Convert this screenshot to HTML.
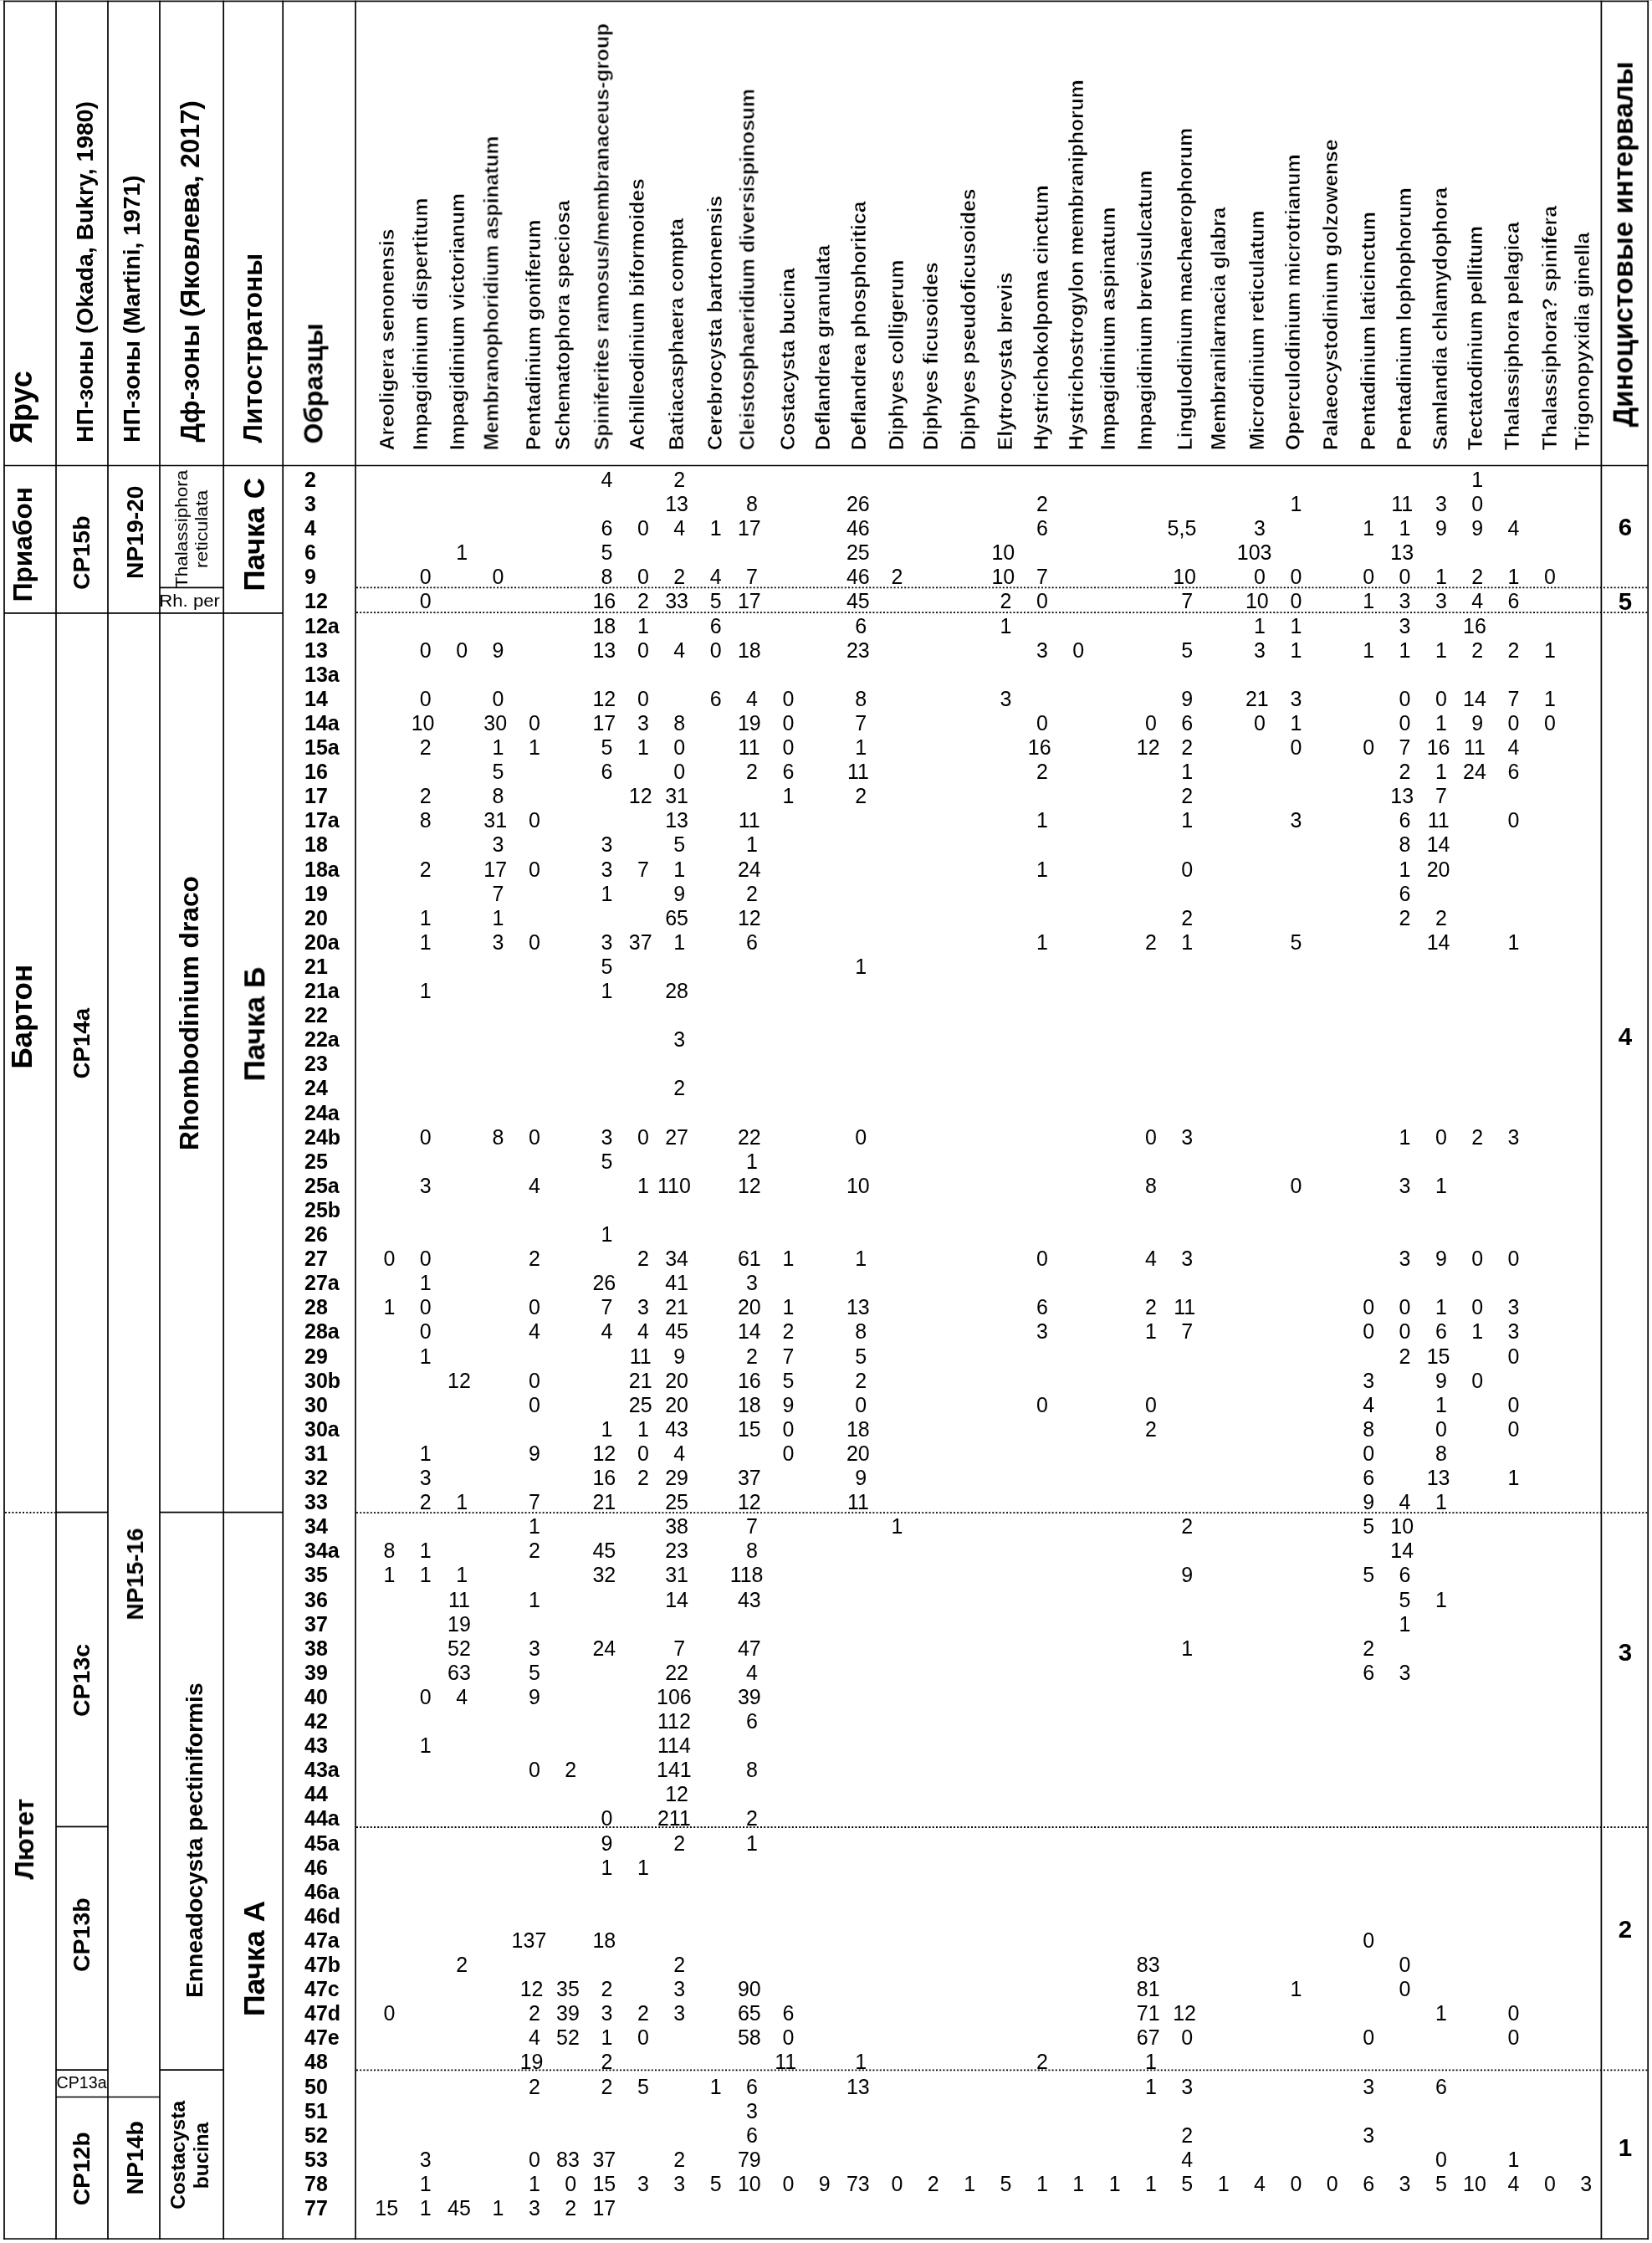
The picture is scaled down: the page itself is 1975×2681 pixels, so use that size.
<!DOCTYPE html>
<html><head><meta charset="utf-8"><title>Table</title>
<style>html,body{margin:0;padding:0;background:#fff;width:1975px;height:2681px;overflow:hidden}</style>
</head><body>
<svg width="1975" height="2681" viewBox="0 0 1975 2681" style="display:block">
<rect width="1975" height="2681" fill="#fff"/>
<rect x="0" y="0" width="1975" height="1" fill="#cacaca"/>
<g stroke="#000" fill="none"><line x1="5" y1="0.65" x2="5" y2="2676.85" stroke-width="1.7"/><line x1="67" y1="0.65" x2="67" y2="2676.85" stroke-width="1.7"/><line x1="129" y1="0.65" x2="129" y2="2676.85" stroke-width="1.7"/><line x1="191" y1="0.65" x2="191" y2="2676.85" stroke-width="1.7"/><line x1="267.2" y1="0.65" x2="267.2" y2="2676.85" stroke-width="1.7"/><line x1="338.2" y1="0.65" x2="338.2" y2="2676.85" stroke-width="1.7"/><line x1="425" y1="0.65" x2="425" y2="2676.85" stroke-width="1.7"/><line x1="1914.4" y1="0.65" x2="1914.4" y2="2676.85" stroke-width="1.7"/><line x1="1970.2" y1="0.65" x2="1970.2" y2="2676.85" stroke-width="1.7"/><line x1="4.15" y1="1.5" x2="1971.05" y2="1.5" stroke-width="1.7"/><line x1="4.15" y1="556.5" x2="1971.05" y2="556.5" stroke-width="1.7"/><line x1="4.15" y1="2676.0" x2="1971.05" y2="2676.0" stroke-width="1.7"/><line x1="5" y1="732.9" x2="338.2" y2="732.9" stroke-width="1.7"/><line x1="191" y1="702.3" x2="267.2" y2="702.3" stroke-width="1.7"/><line x1="67" y1="1807.6" x2="129" y2="1807.6" stroke-width="1.7"/><line x1="191" y1="1807.6" x2="338.2" y2="1807.6" stroke-width="1.7"/><line x1="67" y1="2183.3" x2="129" y2="2183.3" stroke-width="1.7"/><line x1="67" y1="2474.2" x2="129" y2="2474.2" stroke-width="1.7"/><line x1="191" y1="2474.2" x2="267.2" y2="2474.2" stroke-width="1.7"/><line x1="67" y1="2506.5" x2="191" y2="2506.5" stroke-width="1.7"/></g>
<g stroke="#000" stroke-width="1.8" stroke-dasharray="2 2.2" fill="none"><line x1="426" y1="702.4" x2="1970" y2="702.4"/><line x1="426" y1="732.1" x2="1970" y2="732.1"/><line x1="426" y1="1808.1" x2="1970" y2="1808.1"/><line x1="426" y1="2184.0" x2="1970" y2="2184.0"/><line x1="426" y1="2474.3" x2="1970" y2="2474.3"/><line x1="6" y1="1807.8" x2="66" y2="1807.8"/></g>
<g font-family="'Liberation Sans', sans-serif" fill="#000" style="will-change:transform"><text transform="translate(38.10,530.00) rotate(-90)" font-size="36.09" font-weight="bold" >Ярус</text><text transform="translate(111.30,529.00) rotate(-90)" font-size="28.31" font-weight="bold" >НП-зоны (Okada, Bukry, 1980)</text><text transform="translate(167.10,529.00) rotate(-90)" font-size="28.24" font-weight="bold" >НП-зоны (Martini, 1971)</text><text transform="translate(238.20,528.40) rotate(-90)" font-size="31.55" font-weight="bold" >Дф-зоны (Яковлева, 2017)</text><text transform="translate(313.20,529.30) rotate(-90)" font-size="31.70" font-weight="bold" >Литостратоны</text><text transform="translate(385.50,530.40) rotate(-90)" font-size="31.73" font-weight="bold" >Образцы</text><text transform="translate(1951.70,510.40) rotate(-90)" font-size="33.01" font-weight="bold" >Диноцистовые интервалы</text><text transform="translate(38.10,719.30) rotate(-90)" font-size="31.67" font-weight="bold" >Приабон</text><text transform="translate(38.10,1277.60) rotate(-90)" font-size="35.00" font-weight="bold" >Бартон</text><text transform="translate(40.00,2246.50) rotate(-90)" font-size="31.67" font-weight="bold" >Лютет</text><text transform="translate(106.60,705.00) rotate(-90)" font-size="28.46" font-weight="bold" >CP15b</text><text transform="translate(106.60,1289.50) rotate(-90)" font-size="27.67" font-weight="bold" >CP14a</text><text transform="translate(106.60,2052.10) rotate(-90)" font-size="28.54" font-weight="bold" >CP13c</text><text transform="translate(106.80,2357.00) rotate(-90)" font-size="28.53" font-weight="bold" >CP13b</text><text transform="translate(106.60,2636.30) rotate(-90)" font-size="28.27" font-weight="bold" >CP12b</text><text transform="translate(170.90,691.90) rotate(-90)" font-size="28.23" font-weight="bold" >NP19-20</text><text transform="translate(171.00,1936.50) rotate(-90)" font-size="27.90" font-weight="bold" >NP15-16</text><text transform="translate(170.80,2623.50) rotate(-90)" font-size="28.40" font-weight="bold" >NP14b</text><text transform="translate(237.00,1375.00) rotate(-90)" font-size="31.74" font-weight="bold" >Rhombodinium draco</text><text transform="translate(242.00,2388.10) rotate(-90)" font-size="28.25" font-weight="bold" >Enneadocysta pectiniformis</text><text transform="translate(221.00,2640.80) rotate(-90)" font-size="24.32" font-weight="bold" >Costacysta</text><text transform="translate(249.00,2616.30) rotate(-90)" font-size="24.72" font-weight="bold" >bucina</text><text transform="translate(316.10,706.60) rotate(-90)" font-size="34.83" font-weight="bold" >Пачка С</text><text transform="translate(316.30,1292.50) rotate(-90)" font-size="35.21" font-weight="bold" >Пачка Б</text><text transform="translate(316.20,2410.10) rotate(-90)" font-size="35.59" font-weight="bold" >Пачка А</text><text transform="translate(470.80,538.30) rotate(-90)" font-size="24.70" font-weight="bold" stroke="#fff" stroke-width="0.5">Areoligera senonensis</text><text transform="translate(510.80,538.30) rotate(-90)" font-size="24.70" font-weight="bold" stroke="#fff" stroke-width="0.5">Impagidinium dispertitum</text><text transform="translate(555.10,538.30) rotate(-90)" font-size="24.70" font-weight="bold" stroke="#fff" stroke-width="0.5">Impagidinium victorianum</text><text transform="translate(595.60,538.30) rotate(-90)" font-size="24.70" font-weight="bold" stroke="#fff" stroke-width="0.5">Membranophoridium aspinatum</text><text transform="translate(645.90,538.30) rotate(-90)" font-size="24.70" font-weight="bold" stroke="#fff" stroke-width="0.5">Pentadinium goniferum</text><text transform="translate(681.40,538.30) rotate(-90)" font-size="24.70" font-weight="bold" stroke="#fff" stroke-width="0.5">Schematophora speciosa</text><text transform="translate(727.70,538.30) rotate(-90)" font-size="24.70" font-weight="bold" stroke="#fff" stroke-width="0.5">Spiniferites ramosus/membranaceus-group</text><text transform="translate(770.30,538.30) rotate(-90)" font-size="24.70" font-weight="bold" stroke="#fff" stroke-width="0.5">Achilleodinium biformoides</text><text transform="translate(817.00,538.30) rotate(-90)" font-size="24.70" font-weight="bold" stroke="#fff" stroke-width="0.5">Batiacasphaera compta</text><text transform="translate(862.60,538.30) rotate(-90)" font-size="24.70" font-weight="bold" stroke="#fff" stroke-width="0.5">Cerebrocysta bartonensis</text><text transform="translate(901.70,538.30) rotate(-90)" font-size="24.70" font-weight="bold" stroke="#fff" stroke-width="0.5">Cleistosphaeridium diversispinosum</text><text transform="translate(949.60,538.30) rotate(-90)" font-size="24.70" font-weight="bold" stroke="#fff" stroke-width="0.5">Costacysta bucina</text><text transform="translate(992.00,538.30) rotate(-90)" font-size="24.70" font-weight="bold" stroke="#fff" stroke-width="0.5">Deflandrea granulata</text><text transform="translate(1034.70,538.30) rotate(-90)" font-size="24.70" font-weight="bold" stroke="#fff" stroke-width="0.5">Deflandrea phosphoritica</text><text transform="translate(1080.10,538.30) rotate(-90)" font-size="24.70" font-weight="bold" stroke="#fff" stroke-width="0.5">Diphyes colligerum</text><text transform="translate(1120.80,538.30) rotate(-90)" font-size="24.70" font-weight="bold" stroke="#fff" stroke-width="0.5">Diphyes ficusoides</text><text transform="translate(1165.90,538.30) rotate(-90)" font-size="24.70" font-weight="bold" stroke="#fff" stroke-width="0.5">Diphyes pseudoficusoides</text><text transform="translate(1209.80,538.30) rotate(-90)" font-size="24.70" font-weight="bold" stroke="#fff" stroke-width="0.5">Elytrocysta brevis</text><text transform="translate(1252.90,538.30) rotate(-90)" font-size="24.70" font-weight="bold" stroke="#fff" stroke-width="0.5">Hystrichokolpoma cinctum</text><text transform="translate(1294.80,538.30) rotate(-90)" font-size="24.70" font-weight="bold" stroke="#fff" stroke-width="0.5">Hystrichostrogylon membraniphorum</text><text transform="translate(1332.90,538.30) rotate(-90)" font-size="24.70" font-weight="bold" stroke="#fff" stroke-width="0.5">Impagidinium aspinatum</text><text transform="translate(1377.10,538.30) rotate(-90)" font-size="24.70" font-weight="bold" stroke="#fff" stroke-width="0.5">Impagidinium brevisulcatum</text><text transform="translate(1425.20,538.30) rotate(-90)" font-size="24.70" font-weight="bold" stroke="#fff" stroke-width="0.5">Lingulodinium machaerophorum</text><text transform="translate(1464.90,538.30) rotate(-90)" font-size="24.70" font-weight="bold" stroke="#fff" stroke-width="0.5">Membranilarnacia glabra</text><text transform="translate(1511.00,538.30) rotate(-90)" font-size="24.70" font-weight="bold" stroke="#fff" stroke-width="0.5">Microdinium reticulatum</text><text transform="translate(1553.80,538.30) rotate(-90)" font-size="24.70" font-weight="bold" stroke="#fff" stroke-width="0.5">Operculodinium microtrianum</text><text transform="translate(1599.20,538.30) rotate(-90)" font-size="24.70" font-weight="bold" stroke="#fff" stroke-width="0.5">Palaeocystodinium golzowense</text><text transform="translate(1644.00,538.30) rotate(-90)" font-size="24.70" font-weight="bold" stroke="#fff" stroke-width="0.5">Pentadinium laticinctum</text><text transform="translate(1686.70,538.30) rotate(-90)" font-size="24.70" font-weight="bold" stroke="#fff" stroke-width="0.5">Pentadinium lophophorum</text><text transform="translate(1729.90,538.30) rotate(-90)" font-size="24.70" font-weight="bold" stroke="#fff" stroke-width="0.5">Samlandia chlamydophora</text><text transform="translate(1772.40,538.30) rotate(-90)" font-size="24.70" font-weight="bold" stroke="#fff" stroke-width="0.5">Tectatodinium pellitum</text><text transform="translate(1815.70,538.30) rotate(-90)" font-size="24.70" font-weight="bold" stroke="#fff" stroke-width="0.5">Thalassiphora pelagica</text><text transform="translate(1860.70,538.30) rotate(-90)" font-size="24.70" font-weight="bold" stroke="#fff" stroke-width="0.5">Thalassiphora? spinifera</text><text transform="translate(1899.80,538.30) rotate(-90)" font-size="24.70" font-weight="bold" stroke="#fff" stroke-width="0.5">Trigonopyxidia ginella</text><text x="67.60" y="2496.20" font-size="21" font-weight="normal" text-anchor="start" textLength="60" lengthAdjust="spacingAndGlyphs">CP13a</text><text transform="translate(223.90,702.90) rotate(-90)" font-size="21.00" font-weight="normal" textLength="141.2" lengthAdjust="spacingAndGlyphs">Thalassiphora</text><text transform="translate(247.90,679.10) rotate(-90)" font-size="20.80" font-weight="normal" textLength="93.5" lengthAdjust="spacingAndGlyphs">reticulata</text><text x="190.30" y="724.70" font-size="20.5" font-weight="normal" text-anchor="start" textLength="72.6" lengthAdjust="spacingAndGlyphs">Rh. per</text><text x="1943.00" y="639.70" font-size="29.5" font-weight="bold" text-anchor="middle" >6</text><text x="1943.00" y="728.90" font-size="29.5" font-weight="bold" text-anchor="middle" >5</text><text x="1943.00" y="1249.00" font-size="29.5" font-weight="bold" text-anchor="middle" >4</text><text x="1943.00" y="1984.50" font-size="29.5" font-weight="bold" text-anchor="middle" >3</text><text x="1943.00" y="2315.70" font-size="29.5" font-weight="bold" text-anchor="middle" >2</text><text x="1943.00" y="2577.00" font-size="29.5" font-weight="bold" text-anchor="middle" >1</text><text x="364.00" y="581.90" font-size="25" font-weight="bold" text-anchor="start" >2</text><text x="725.56" y="581.90" font-size="25" font-weight="normal" text-anchor="middle" >4</text><text x="812.28" y="581.90" font-size="25" font-weight="normal" text-anchor="middle" >2</text><text x="1766.20" y="581.90" font-size="25" font-weight="normal" text-anchor="middle" >1</text><text x="364.00" y="611.00" font-size="25" font-weight="bold" text-anchor="start" >3</text><text x="809.08" y="611.00" font-size="25" font-weight="normal" text-anchor="middle" >13</text><text x="899.00" y="611.00" font-size="25" font-weight="normal" text-anchor="middle" >8</text><text x="1025.88" y="611.00" font-size="25" font-weight="normal" text-anchor="middle" >26</text><text x="1245.88" y="611.00" font-size="25" font-weight="normal" text-anchor="middle" >2</text><text x="1549.40" y="611.00" font-size="25" font-weight="normal" text-anchor="middle" >1</text><text x="1676.28" y="611.00" font-size="25" font-weight="normal" text-anchor="middle" >11</text><text x="1722.84" y="611.00" font-size="25" font-weight="normal" text-anchor="middle" >3</text><text x="1766.20" y="611.00" font-size="25" font-weight="normal" text-anchor="middle" >0</text><text x="364.00" y="640.10" font-size="25" font-weight="bold" text-anchor="start" >4</text><text x="725.56" y="640.10" font-size="25" font-weight="normal" text-anchor="middle" >6</text><text x="768.92" y="640.10" font-size="25" font-weight="normal" text-anchor="middle" >0</text><text x="812.28" y="640.10" font-size="25" font-weight="normal" text-anchor="middle" >4</text><text x="855.64" y="640.10" font-size="25" font-weight="normal" text-anchor="middle" >1</text><text x="895.80" y="640.10" font-size="25" font-weight="normal" text-anchor="middle" >17</text><text x="1025.88" y="640.10" font-size="25" font-weight="normal" text-anchor="middle" >46</text><text x="1245.88" y="640.10" font-size="25" font-weight="normal" text-anchor="middle" >6</text><text x="1412.92" y="640.10" font-size="25" font-weight="normal" text-anchor="middle" >5,5</text><text x="1506.04" y="640.10" font-size="25" font-weight="normal" text-anchor="middle" >3</text><text x="1636.12" y="640.10" font-size="25" font-weight="normal" text-anchor="middle" >1</text><text x="1679.48" y="640.10" font-size="25" font-weight="normal" text-anchor="middle" >1</text><text x="1722.84" y="640.10" font-size="25" font-weight="normal" text-anchor="middle" >9</text><text x="1766.20" y="640.10" font-size="25" font-weight="normal" text-anchor="middle" >9</text><text x="1809.56" y="640.10" font-size="25" font-weight="normal" text-anchor="middle" >4</text><text x="364.00" y="669.20" font-size="25" font-weight="bold" text-anchor="start" >6</text><text x="552.12" y="669.20" font-size="25" font-weight="normal" text-anchor="middle" >1</text><text x="725.56" y="669.20" font-size="25" font-weight="normal" text-anchor="middle" >5</text><text x="1025.88" y="669.20" font-size="25" font-weight="normal" text-anchor="middle" >25</text><text x="1199.32" y="669.20" font-size="25" font-weight="normal" text-anchor="middle" >10</text><text x="1499.64" y="669.20" font-size="25" font-weight="normal" text-anchor="middle" >103</text><text x="1676.28" y="669.20" font-size="25" font-weight="normal" text-anchor="middle" >13</text><text x="364.00" y="698.30" font-size="25" font-weight="bold" text-anchor="start" >9</text><text x="508.76" y="698.30" font-size="25" font-weight="normal" text-anchor="middle" >0</text><text x="595.48" y="698.30" font-size="25" font-weight="normal" text-anchor="middle" >0</text><text x="725.56" y="698.30" font-size="25" font-weight="normal" text-anchor="middle" >8</text><text x="768.92" y="698.30" font-size="25" font-weight="normal" text-anchor="middle" >0</text><text x="812.28" y="698.30" font-size="25" font-weight="normal" text-anchor="middle" >2</text><text x="855.64" y="698.30" font-size="25" font-weight="normal" text-anchor="middle" >4</text><text x="899.00" y="698.30" font-size="25" font-weight="normal" text-anchor="middle" >7</text><text x="1025.88" y="698.30" font-size="25" font-weight="normal" text-anchor="middle" >46</text><text x="1072.44" y="698.30" font-size="25" font-weight="normal" text-anchor="middle" >2</text><text x="1199.32" y="698.30" font-size="25" font-weight="normal" text-anchor="middle" >10</text><text x="1245.88" y="698.30" font-size="25" font-weight="normal" text-anchor="middle" >7</text><text x="1416.12" y="698.30" font-size="25" font-weight="normal" text-anchor="middle" >10</text><text x="1506.04" y="698.30" font-size="25" font-weight="normal" text-anchor="middle" >0</text><text x="1549.40" y="698.30" font-size="25" font-weight="normal" text-anchor="middle" >0</text><text x="1636.12" y="698.30" font-size="25" font-weight="normal" text-anchor="middle" >0</text><text x="1679.48" y="698.30" font-size="25" font-weight="normal" text-anchor="middle" >0</text><text x="1722.84" y="698.30" font-size="25" font-weight="normal" text-anchor="middle" >1</text><text x="1766.20" y="698.30" font-size="25" font-weight="normal" text-anchor="middle" >2</text><text x="1809.56" y="698.30" font-size="25" font-weight="normal" text-anchor="middle" >1</text><text x="1852.92" y="698.30" font-size="25" font-weight="normal" text-anchor="middle" >0</text><text x="364.00" y="727.40" font-size="25" font-weight="bold" text-anchor="start" >12</text><text x="508.76" y="727.40" font-size="25" font-weight="normal" text-anchor="middle" >0</text><text x="722.36" y="727.40" font-size="25" font-weight="normal" text-anchor="middle" >16</text><text x="768.92" y="727.40" font-size="25" font-weight="normal" text-anchor="middle" >2</text><text x="809.08" y="727.40" font-size="25" font-weight="normal" text-anchor="middle" >33</text><text x="855.64" y="727.40" font-size="25" font-weight="normal" text-anchor="middle" >5</text><text x="895.80" y="727.40" font-size="25" font-weight="normal" text-anchor="middle" >17</text><text x="1025.88" y="727.40" font-size="25" font-weight="normal" text-anchor="middle" >45</text><text x="1202.52" y="727.40" font-size="25" font-weight="normal" text-anchor="middle" >2</text><text x="1245.88" y="727.40" font-size="25" font-weight="normal" text-anchor="middle" >0</text><text x="1419.32" y="727.40" font-size="25" font-weight="normal" text-anchor="middle" >7</text><text x="1502.84" y="727.40" font-size="25" font-weight="normal" text-anchor="middle" >10</text><text x="1549.40" y="727.40" font-size="25" font-weight="normal" text-anchor="middle" >0</text><text x="1636.12" y="727.40" font-size="25" font-weight="normal" text-anchor="middle" >1</text><text x="1679.48" y="727.40" font-size="25" font-weight="normal" text-anchor="middle" >3</text><text x="1722.84" y="727.40" font-size="25" font-weight="normal" text-anchor="middle" >3</text><text x="1766.20" y="727.40" font-size="25" font-weight="normal" text-anchor="middle" >4</text><text x="1809.56" y="727.40" font-size="25" font-weight="normal" text-anchor="middle" >6</text><text x="364.00" y="756.50" font-size="25" font-weight="bold" text-anchor="start" >12a</text><text x="722.36" y="756.50" font-size="25" font-weight="normal" text-anchor="middle" >18</text><text x="768.92" y="756.50" font-size="25" font-weight="normal" text-anchor="middle" >1</text><text x="855.64" y="756.50" font-size="25" font-weight="normal" text-anchor="middle" >6</text><text x="1029.08" y="756.50" font-size="25" font-weight="normal" text-anchor="middle" >6</text><text x="1202.52" y="756.50" font-size="25" font-weight="normal" text-anchor="middle" >1</text><text x="1506.04" y="756.50" font-size="25" font-weight="normal" text-anchor="middle" >1</text><text x="1549.40" y="756.50" font-size="25" font-weight="normal" text-anchor="middle" >1</text><text x="1679.48" y="756.50" font-size="25" font-weight="normal" text-anchor="middle" >3</text><text x="1763.00" y="756.50" font-size="25" font-weight="normal" text-anchor="middle" >16</text><text x="364.00" y="785.60" font-size="25" font-weight="bold" text-anchor="start" >13</text><text x="508.76" y="785.60" font-size="25" font-weight="normal" text-anchor="middle" >0</text><text x="552.12" y="785.60" font-size="25" font-weight="normal" text-anchor="middle" >0</text><text x="595.48" y="785.60" font-size="25" font-weight="normal" text-anchor="middle" >9</text><text x="722.36" y="785.60" font-size="25" font-weight="normal" text-anchor="middle" >13</text><text x="768.92" y="785.60" font-size="25" font-weight="normal" text-anchor="middle" >0</text><text x="812.28" y="785.60" font-size="25" font-weight="normal" text-anchor="middle" >4</text><text x="855.64" y="785.60" font-size="25" font-weight="normal" text-anchor="middle" >0</text><text x="895.80" y="785.60" font-size="25" font-weight="normal" text-anchor="middle" >18</text><text x="1025.88" y="785.60" font-size="25" font-weight="normal" text-anchor="middle" >23</text><text x="1245.88" y="785.60" font-size="25" font-weight="normal" text-anchor="middle" >3</text><text x="1289.24" y="785.60" font-size="25" font-weight="normal" text-anchor="middle" >0</text><text x="1419.32" y="785.60" font-size="25" font-weight="normal" text-anchor="middle" >5</text><text x="1506.04" y="785.60" font-size="25" font-weight="normal" text-anchor="middle" >3</text><text x="1549.40" y="785.60" font-size="25" font-weight="normal" text-anchor="middle" >1</text><text x="1636.12" y="785.60" font-size="25" font-weight="normal" text-anchor="middle" >1</text><text x="1679.48" y="785.60" font-size="25" font-weight="normal" text-anchor="middle" >1</text><text x="1722.84" y="785.60" font-size="25" font-weight="normal" text-anchor="middle" >1</text><text x="1766.20" y="785.60" font-size="25" font-weight="normal" text-anchor="middle" >2</text><text x="1809.56" y="785.60" font-size="25" font-weight="normal" text-anchor="middle" >2</text><text x="1852.92" y="785.60" font-size="25" font-weight="normal" text-anchor="middle" >1</text><text x="364.00" y="814.70" font-size="25" font-weight="bold" text-anchor="start" >13a</text><text x="364.00" y="843.80" font-size="25" font-weight="bold" text-anchor="start" >14</text><text x="508.76" y="843.80" font-size="25" font-weight="normal" text-anchor="middle" >0</text><text x="595.48" y="843.80" font-size="25" font-weight="normal" text-anchor="middle" >0</text><text x="722.36" y="843.80" font-size="25" font-weight="normal" text-anchor="middle" >12</text><text x="768.92" y="843.80" font-size="25" font-weight="normal" text-anchor="middle" >0</text><text x="855.64" y="843.80" font-size="25" font-weight="normal" text-anchor="middle" >6</text><text x="899.00" y="843.80" font-size="25" font-weight="normal" text-anchor="middle" >4</text><text x="942.36" y="843.80" font-size="25" font-weight="normal" text-anchor="middle" >0</text><text x="1029.08" y="843.80" font-size="25" font-weight="normal" text-anchor="middle" >8</text><text x="1202.52" y="843.80" font-size="25" font-weight="normal" text-anchor="middle" >3</text><text x="1419.32" y="843.80" font-size="25" font-weight="normal" text-anchor="middle" >9</text><text x="1502.84" y="843.80" font-size="25" font-weight="normal" text-anchor="middle" >21</text><text x="1549.40" y="843.80" font-size="25" font-weight="normal" text-anchor="middle" >3</text><text x="1679.48" y="843.80" font-size="25" font-weight="normal" text-anchor="middle" >0</text><text x="1722.84" y="843.80" font-size="25" font-weight="normal" text-anchor="middle" >0</text><text x="1763.00" y="843.80" font-size="25" font-weight="normal" text-anchor="middle" >14</text><text x="1809.56" y="843.80" font-size="25" font-weight="normal" text-anchor="middle" >7</text><text x="1852.92" y="843.80" font-size="25" font-weight="normal" text-anchor="middle" >1</text><text x="364.00" y="872.90" font-size="25" font-weight="bold" text-anchor="start" >14a</text><text x="505.56" y="872.90" font-size="25" font-weight="normal" text-anchor="middle" >10</text><text x="592.28" y="872.90" font-size="25" font-weight="normal" text-anchor="middle" >30</text><text x="638.84" y="872.90" font-size="25" font-weight="normal" text-anchor="middle" >0</text><text x="722.36" y="872.90" font-size="25" font-weight="normal" text-anchor="middle" >17</text><text x="768.92" y="872.90" font-size="25" font-weight="normal" text-anchor="middle" >3</text><text x="812.28" y="872.90" font-size="25" font-weight="normal" text-anchor="middle" >8</text><text x="895.80" y="872.90" font-size="25" font-weight="normal" text-anchor="middle" >19</text><text x="942.36" y="872.90" font-size="25" font-weight="normal" text-anchor="middle" >0</text><text x="1029.08" y="872.90" font-size="25" font-weight="normal" text-anchor="middle" >7</text><text x="1245.88" y="872.90" font-size="25" font-weight="normal" text-anchor="middle" >0</text><text x="1375.96" y="872.90" font-size="25" font-weight="normal" text-anchor="middle" >0</text><text x="1419.32" y="872.90" font-size="25" font-weight="normal" text-anchor="middle" >6</text><text x="1506.04" y="872.90" font-size="25" font-weight="normal" text-anchor="middle" >0</text><text x="1549.40" y="872.90" font-size="25" font-weight="normal" text-anchor="middle" >1</text><text x="1679.48" y="872.90" font-size="25" font-weight="normal" text-anchor="middle" >0</text><text x="1722.84" y="872.90" font-size="25" font-weight="normal" text-anchor="middle" >1</text><text x="1766.20" y="872.90" font-size="25" font-weight="normal" text-anchor="middle" >9</text><text x="1809.56" y="872.90" font-size="25" font-weight="normal" text-anchor="middle" >0</text><text x="1852.92" y="872.90" font-size="25" font-weight="normal" text-anchor="middle" >0</text><text x="364.00" y="902.00" font-size="25" font-weight="bold" text-anchor="start" >15a</text><text x="508.76" y="902.00" font-size="25" font-weight="normal" text-anchor="middle" >2</text><text x="595.48" y="902.00" font-size="25" font-weight="normal" text-anchor="middle" >1</text><text x="638.84" y="902.00" font-size="25" font-weight="normal" text-anchor="middle" >1</text><text x="725.56" y="902.00" font-size="25" font-weight="normal" text-anchor="middle" >5</text><text x="768.92" y="902.00" font-size="25" font-weight="normal" text-anchor="middle" >1</text><text x="812.28" y="902.00" font-size="25" font-weight="normal" text-anchor="middle" >0</text><text x="895.80" y="902.00" font-size="25" font-weight="normal" text-anchor="middle" >11</text><text x="942.36" y="902.00" font-size="25" font-weight="normal" text-anchor="middle" >0</text><text x="1029.08" y="902.00" font-size="25" font-weight="normal" text-anchor="middle" >1</text><text x="1242.68" y="902.00" font-size="25" font-weight="normal" text-anchor="middle" >16</text><text x="1372.76" y="902.00" font-size="25" font-weight="normal" text-anchor="middle" >12</text><text x="1419.32" y="902.00" font-size="25" font-weight="normal" text-anchor="middle" >2</text><text x="1549.40" y="902.00" font-size="25" font-weight="normal" text-anchor="middle" >0</text><text x="1636.12" y="902.00" font-size="25" font-weight="normal" text-anchor="middle" >0</text><text x="1679.48" y="902.00" font-size="25" font-weight="normal" text-anchor="middle" >7</text><text x="1719.64" y="902.00" font-size="25" font-weight="normal" text-anchor="middle" >16</text><text x="1763.00" y="902.00" font-size="25" font-weight="normal" text-anchor="middle" >11</text><text x="1809.56" y="902.00" font-size="25" font-weight="normal" text-anchor="middle" >4</text><text x="364.00" y="931.10" font-size="25" font-weight="bold" text-anchor="start" >16</text><text x="595.48" y="931.10" font-size="25" font-weight="normal" text-anchor="middle" >5</text><text x="725.56" y="931.10" font-size="25" font-weight="normal" text-anchor="middle" >6</text><text x="812.28" y="931.10" font-size="25" font-weight="normal" text-anchor="middle" >0</text><text x="899.00" y="931.10" font-size="25" font-weight="normal" text-anchor="middle" >2</text><text x="942.36" y="931.10" font-size="25" font-weight="normal" text-anchor="middle" >6</text><text x="1025.88" y="931.10" font-size="25" font-weight="normal" text-anchor="middle" >11</text><text x="1245.88" y="931.10" font-size="25" font-weight="normal" text-anchor="middle" >2</text><text x="1419.32" y="931.10" font-size="25" font-weight="normal" text-anchor="middle" >1</text><text x="1679.48" y="931.10" font-size="25" font-weight="normal" text-anchor="middle" >2</text><text x="1722.84" y="931.10" font-size="25" font-weight="normal" text-anchor="middle" >1</text><text x="1763.00" y="931.10" font-size="25" font-weight="normal" text-anchor="middle" >24</text><text x="1809.56" y="931.10" font-size="25" font-weight="normal" text-anchor="middle" >6</text><text x="364.00" y="960.20" font-size="25" font-weight="bold" text-anchor="start" >17</text><text x="508.76" y="960.20" font-size="25" font-weight="normal" text-anchor="middle" >2</text><text x="595.48" y="960.20" font-size="25" font-weight="normal" text-anchor="middle" >8</text><text x="765.72" y="960.20" font-size="25" font-weight="normal" text-anchor="middle" >12</text><text x="809.08" y="960.20" font-size="25" font-weight="normal" text-anchor="middle" >31</text><text x="942.36" y="960.20" font-size="25" font-weight="normal" text-anchor="middle" >1</text><text x="1029.08" y="960.20" font-size="25" font-weight="normal" text-anchor="middle" >2</text><text x="1419.32" y="960.20" font-size="25" font-weight="normal" text-anchor="middle" >2</text><text x="1676.28" y="960.20" font-size="25" font-weight="normal" text-anchor="middle" >13</text><text x="1722.84" y="960.20" font-size="25" font-weight="normal" text-anchor="middle" >7</text><text x="364.00" y="989.30" font-size="25" font-weight="bold" text-anchor="start" >17a</text><text x="508.76" y="989.30" font-size="25" font-weight="normal" text-anchor="middle" >8</text><text x="592.28" y="989.30" font-size="25" font-weight="normal" text-anchor="middle" >31</text><text x="638.84" y="989.30" font-size="25" font-weight="normal" text-anchor="middle" >0</text><text x="809.08" y="989.30" font-size="25" font-weight="normal" text-anchor="middle" >13</text><text x="895.80" y="989.30" font-size="25" font-weight="normal" text-anchor="middle" >11</text><text x="1245.88" y="989.30" font-size="25" font-weight="normal" text-anchor="middle" >1</text><text x="1419.32" y="989.30" font-size="25" font-weight="normal" text-anchor="middle" >1</text><text x="1549.40" y="989.30" font-size="25" font-weight="normal" text-anchor="middle" >3</text><text x="1679.48" y="989.30" font-size="25" font-weight="normal" text-anchor="middle" >6</text><text x="1719.64" y="989.30" font-size="25" font-weight="normal" text-anchor="middle" >11</text><text x="1809.56" y="989.30" font-size="25" font-weight="normal" text-anchor="middle" >0</text><text x="364.00" y="1018.40" font-size="25" font-weight="bold" text-anchor="start" >18</text><text x="595.48" y="1018.40" font-size="25" font-weight="normal" text-anchor="middle" >3</text><text x="725.56" y="1018.40" font-size="25" font-weight="normal" text-anchor="middle" >3</text><text x="812.28" y="1018.40" font-size="25" font-weight="normal" text-anchor="middle" >5</text><text x="899.00" y="1018.40" font-size="25" font-weight="normal" text-anchor="middle" >1</text><text x="1679.48" y="1018.40" font-size="25" font-weight="normal" text-anchor="middle" >8</text><text x="1719.64" y="1018.40" font-size="25" font-weight="normal" text-anchor="middle" >14</text><text x="364.00" y="1047.50" font-size="25" font-weight="bold" text-anchor="start" >18a</text><text x="508.76" y="1047.50" font-size="25" font-weight="normal" text-anchor="middle" >2</text><text x="592.28" y="1047.50" font-size="25" font-weight="normal" text-anchor="middle" >17</text><text x="638.84" y="1047.50" font-size="25" font-weight="normal" text-anchor="middle" >0</text><text x="725.56" y="1047.50" font-size="25" font-weight="normal" text-anchor="middle" >3</text><text x="768.92" y="1047.50" font-size="25" font-weight="normal" text-anchor="middle" >7</text><text x="812.28" y="1047.50" font-size="25" font-weight="normal" text-anchor="middle" >1</text><text x="895.80" y="1047.50" font-size="25" font-weight="normal" text-anchor="middle" >24</text><text x="1245.88" y="1047.50" font-size="25" font-weight="normal" text-anchor="middle" >1</text><text x="1419.32" y="1047.50" font-size="25" font-weight="normal" text-anchor="middle" >0</text><text x="1679.48" y="1047.50" font-size="25" font-weight="normal" text-anchor="middle" >1</text><text x="1719.64" y="1047.50" font-size="25" font-weight="normal" text-anchor="middle" >20</text><text x="364.00" y="1076.60" font-size="25" font-weight="bold" text-anchor="start" >19</text><text x="595.48" y="1076.60" font-size="25" font-weight="normal" text-anchor="middle" >7</text><text x="725.56" y="1076.60" font-size="25" font-weight="normal" text-anchor="middle" >1</text><text x="812.28" y="1076.60" font-size="25" font-weight="normal" text-anchor="middle" >9</text><text x="899.00" y="1076.60" font-size="25" font-weight="normal" text-anchor="middle" >2</text><text x="1679.48" y="1076.60" font-size="25" font-weight="normal" text-anchor="middle" >6</text><text x="364.00" y="1105.70" font-size="25" font-weight="bold" text-anchor="start" >20</text><text x="508.76" y="1105.70" font-size="25" font-weight="normal" text-anchor="middle" >1</text><text x="595.48" y="1105.70" font-size="25" font-weight="normal" text-anchor="middle" >1</text><text x="809.08" y="1105.70" font-size="25" font-weight="normal" text-anchor="middle" >65</text><text x="895.80" y="1105.70" font-size="25" font-weight="normal" text-anchor="middle" >12</text><text x="1419.32" y="1105.70" font-size="25" font-weight="normal" text-anchor="middle" >2</text><text x="1679.48" y="1105.70" font-size="25" font-weight="normal" text-anchor="middle" >2</text><text x="1722.84" y="1105.70" font-size="25" font-weight="normal" text-anchor="middle" >2</text><text x="364.00" y="1134.80" font-size="25" font-weight="bold" text-anchor="start" >20a</text><text x="508.76" y="1134.80" font-size="25" font-weight="normal" text-anchor="middle" >1</text><text x="595.48" y="1134.80" font-size="25" font-weight="normal" text-anchor="middle" >3</text><text x="638.84" y="1134.80" font-size="25" font-weight="normal" text-anchor="middle" >0</text><text x="725.56" y="1134.80" font-size="25" font-weight="normal" text-anchor="middle" >3</text><text x="765.72" y="1134.80" font-size="25" font-weight="normal" text-anchor="middle" >37</text><text x="812.28" y="1134.80" font-size="25" font-weight="normal" text-anchor="middle" >1</text><text x="899.00" y="1134.80" font-size="25" font-weight="normal" text-anchor="middle" >6</text><text x="1245.88" y="1134.80" font-size="25" font-weight="normal" text-anchor="middle" >1</text><text x="1375.96" y="1134.80" font-size="25" font-weight="normal" text-anchor="middle" >2</text><text x="1419.32" y="1134.80" font-size="25" font-weight="normal" text-anchor="middle" >1</text><text x="1549.40" y="1134.80" font-size="25" font-weight="normal" text-anchor="middle" >5</text><text x="1719.64" y="1134.80" font-size="25" font-weight="normal" text-anchor="middle" >14</text><text x="1809.56" y="1134.80" font-size="25" font-weight="normal" text-anchor="middle" >1</text><text x="364.00" y="1163.90" font-size="25" font-weight="bold" text-anchor="start" >21</text><text x="725.56" y="1163.90" font-size="25" font-weight="normal" text-anchor="middle" >5</text><text x="1029.08" y="1163.90" font-size="25" font-weight="normal" text-anchor="middle" >1</text><text x="364.00" y="1193.00" font-size="25" font-weight="bold" text-anchor="start" >21a</text><text x="508.76" y="1193.00" font-size="25" font-weight="normal" text-anchor="middle" >1</text><text x="725.56" y="1193.00" font-size="25" font-weight="normal" text-anchor="middle" >1</text><text x="809.08" y="1193.00" font-size="25" font-weight="normal" text-anchor="middle" >28</text><text x="364.00" y="1222.10" font-size="25" font-weight="bold" text-anchor="start" >22</text><text x="364.00" y="1251.20" font-size="25" font-weight="bold" text-anchor="start" >22a</text><text x="812.28" y="1251.20" font-size="25" font-weight="normal" text-anchor="middle" >3</text><text x="364.00" y="1280.30" font-size="25" font-weight="bold" text-anchor="start" >23</text><text x="364.00" y="1309.40" font-size="25" font-weight="bold" text-anchor="start" >24</text><text x="812.28" y="1309.40" font-size="25" font-weight="normal" text-anchor="middle" >2</text><text x="364.00" y="1338.50" font-size="25" font-weight="bold" text-anchor="start" >24a</text><text x="364.00" y="1367.60" font-size="25" font-weight="bold" text-anchor="start" >24b</text><text x="508.76" y="1367.60" font-size="25" font-weight="normal" text-anchor="middle" >0</text><text x="595.48" y="1367.60" font-size="25" font-weight="normal" text-anchor="middle" >8</text><text x="638.84" y="1367.60" font-size="25" font-weight="normal" text-anchor="middle" >0</text><text x="725.56" y="1367.60" font-size="25" font-weight="normal" text-anchor="middle" >3</text><text x="768.92" y="1367.60" font-size="25" font-weight="normal" text-anchor="middle" >0</text><text x="809.08" y="1367.60" font-size="25" font-weight="normal" text-anchor="middle" >27</text><text x="895.80" y="1367.60" font-size="25" font-weight="normal" text-anchor="middle" >22</text><text x="1029.08" y="1367.60" font-size="25" font-weight="normal" text-anchor="middle" >0</text><text x="1375.96" y="1367.60" font-size="25" font-weight="normal" text-anchor="middle" >0</text><text x="1419.32" y="1367.60" font-size="25" font-weight="normal" text-anchor="middle" >3</text><text x="1679.48" y="1367.60" font-size="25" font-weight="normal" text-anchor="middle" >1</text><text x="1722.84" y="1367.60" font-size="25" font-weight="normal" text-anchor="middle" >0</text><text x="1766.20" y="1367.60" font-size="25" font-weight="normal" text-anchor="middle" >2</text><text x="1809.56" y="1367.60" font-size="25" font-weight="normal" text-anchor="middle" >3</text><text x="364.00" y="1396.70" font-size="25" font-weight="bold" text-anchor="start" >25</text><text x="725.56" y="1396.70" font-size="25" font-weight="normal" text-anchor="middle" >5</text><text x="899.00" y="1396.70" font-size="25" font-weight="normal" text-anchor="middle" >1</text><text x="364.00" y="1425.80" font-size="25" font-weight="bold" text-anchor="start" >25a</text><text x="508.76" y="1425.80" font-size="25" font-weight="normal" text-anchor="middle" >3</text><text x="638.84" y="1425.80" font-size="25" font-weight="normal" text-anchor="middle" >4</text><text x="768.92" y="1425.80" font-size="25" font-weight="normal" text-anchor="middle" >1</text><text x="805.88" y="1425.80" font-size="25" font-weight="normal" text-anchor="middle" >110</text><text x="895.80" y="1425.80" font-size="25" font-weight="normal" text-anchor="middle" >12</text><text x="1025.88" y="1425.80" font-size="25" font-weight="normal" text-anchor="middle" >10</text><text x="1375.96" y="1425.80" font-size="25" font-weight="normal" text-anchor="middle" >8</text><text x="1549.40" y="1425.80" font-size="25" font-weight="normal" text-anchor="middle" >0</text><text x="1679.48" y="1425.80" font-size="25" font-weight="normal" text-anchor="middle" >3</text><text x="1722.84" y="1425.80" font-size="25" font-weight="normal" text-anchor="middle" >1</text><text x="364.00" y="1454.90" font-size="25" font-weight="bold" text-anchor="start" >25b</text><text x="364.00" y="1484.00" font-size="25" font-weight="bold" text-anchor="start" >26</text><text x="725.56" y="1484.00" font-size="25" font-weight="normal" text-anchor="middle" >1</text><text x="364.00" y="1513.10" font-size="25" font-weight="bold" text-anchor="start" >27</text><text x="465.40" y="1513.10" font-size="25" font-weight="normal" text-anchor="middle" >0</text><text x="508.76" y="1513.10" font-size="25" font-weight="normal" text-anchor="middle" >0</text><text x="638.84" y="1513.10" font-size="25" font-weight="normal" text-anchor="middle" >2</text><text x="768.92" y="1513.10" font-size="25" font-weight="normal" text-anchor="middle" >2</text><text x="809.08" y="1513.10" font-size="25" font-weight="normal" text-anchor="middle" >34</text><text x="895.80" y="1513.10" font-size="25" font-weight="normal" text-anchor="middle" >61</text><text x="942.36" y="1513.10" font-size="25" font-weight="normal" text-anchor="middle" >1</text><text x="1029.08" y="1513.10" font-size="25" font-weight="normal" text-anchor="middle" >1</text><text x="1245.88" y="1513.10" font-size="25" font-weight="normal" text-anchor="middle" >0</text><text x="1375.96" y="1513.10" font-size="25" font-weight="normal" text-anchor="middle" >4</text><text x="1419.32" y="1513.10" font-size="25" font-weight="normal" text-anchor="middle" >3</text><text x="1679.48" y="1513.10" font-size="25" font-weight="normal" text-anchor="middle" >3</text><text x="1722.84" y="1513.10" font-size="25" font-weight="normal" text-anchor="middle" >9</text><text x="1766.20" y="1513.10" font-size="25" font-weight="normal" text-anchor="middle" >0</text><text x="1809.56" y="1513.10" font-size="25" font-weight="normal" text-anchor="middle" >0</text><text x="364.00" y="1542.20" font-size="25" font-weight="bold" text-anchor="start" >27a</text><text x="508.76" y="1542.20" font-size="25" font-weight="normal" text-anchor="middle" >1</text><text x="722.36" y="1542.20" font-size="25" font-weight="normal" text-anchor="middle" >26</text><text x="809.08" y="1542.20" font-size="25" font-weight="normal" text-anchor="middle" >41</text><text x="899.00" y="1542.20" font-size="25" font-weight="normal" text-anchor="middle" >3</text><text x="364.00" y="1571.30" font-size="25" font-weight="bold" text-anchor="start" >28</text><text x="465.40" y="1571.30" font-size="25" font-weight="normal" text-anchor="middle" >1</text><text x="508.76" y="1571.30" font-size="25" font-weight="normal" text-anchor="middle" >0</text><text x="638.84" y="1571.30" font-size="25" font-weight="normal" text-anchor="middle" >0</text><text x="725.56" y="1571.30" font-size="25" font-weight="normal" text-anchor="middle" >7</text><text x="768.92" y="1571.30" font-size="25" font-weight="normal" text-anchor="middle" >3</text><text x="809.08" y="1571.30" font-size="25" font-weight="normal" text-anchor="middle" >21</text><text x="895.80" y="1571.30" font-size="25" font-weight="normal" text-anchor="middle" >20</text><text x="942.36" y="1571.30" font-size="25" font-weight="normal" text-anchor="middle" >1</text><text x="1025.88" y="1571.30" font-size="25" font-weight="normal" text-anchor="middle" >13</text><text x="1245.88" y="1571.30" font-size="25" font-weight="normal" text-anchor="middle" >6</text><text x="1375.96" y="1571.30" font-size="25" font-weight="normal" text-anchor="middle" >2</text><text x="1416.12" y="1571.30" font-size="25" font-weight="normal" text-anchor="middle" >11</text><text x="1636.12" y="1571.30" font-size="25" font-weight="normal" text-anchor="middle" >0</text><text x="1679.48" y="1571.30" font-size="25" font-weight="normal" text-anchor="middle" >0</text><text x="1722.84" y="1571.30" font-size="25" font-weight="normal" text-anchor="middle" >1</text><text x="1766.20" y="1571.30" font-size="25" font-weight="normal" text-anchor="middle" >0</text><text x="1809.56" y="1571.30" font-size="25" font-weight="normal" text-anchor="middle" >3</text><text x="364.00" y="1600.40" font-size="25" font-weight="bold" text-anchor="start" >28a</text><text x="508.76" y="1600.40" font-size="25" font-weight="normal" text-anchor="middle" >0</text><text x="638.84" y="1600.40" font-size="25" font-weight="normal" text-anchor="middle" >4</text><text x="725.56" y="1600.40" font-size="25" font-weight="normal" text-anchor="middle" >4</text><text x="768.92" y="1600.40" font-size="25" font-weight="normal" text-anchor="middle" >4</text><text x="809.08" y="1600.40" font-size="25" font-weight="normal" text-anchor="middle" >45</text><text x="895.80" y="1600.40" font-size="25" font-weight="normal" text-anchor="middle" >14</text><text x="942.36" y="1600.40" font-size="25" font-weight="normal" text-anchor="middle" >2</text><text x="1029.08" y="1600.40" font-size="25" font-weight="normal" text-anchor="middle" >8</text><text x="1245.88" y="1600.40" font-size="25" font-weight="normal" text-anchor="middle" >3</text><text x="1375.96" y="1600.40" font-size="25" font-weight="normal" text-anchor="middle" >1</text><text x="1419.32" y="1600.40" font-size="25" font-weight="normal" text-anchor="middle" >7</text><text x="1636.12" y="1600.40" font-size="25" font-weight="normal" text-anchor="middle" >0</text><text x="1679.48" y="1600.40" font-size="25" font-weight="normal" text-anchor="middle" >0</text><text x="1722.84" y="1600.40" font-size="25" font-weight="normal" text-anchor="middle" >6</text><text x="1766.20" y="1600.40" font-size="25" font-weight="normal" text-anchor="middle" >1</text><text x="1809.56" y="1600.40" font-size="25" font-weight="normal" text-anchor="middle" >3</text><text x="364.00" y="1629.50" font-size="25" font-weight="bold" text-anchor="start" >29</text><text x="508.76" y="1629.50" font-size="25" font-weight="normal" text-anchor="middle" >1</text><text x="765.72" y="1629.50" font-size="25" font-weight="normal" text-anchor="middle" >11</text><text x="812.28" y="1629.50" font-size="25" font-weight="normal" text-anchor="middle" >9</text><text x="899.00" y="1629.50" font-size="25" font-weight="normal" text-anchor="middle" >2</text><text x="942.36" y="1629.50" font-size="25" font-weight="normal" text-anchor="middle" >7</text><text x="1029.08" y="1629.50" font-size="25" font-weight="normal" text-anchor="middle" >5</text><text x="1679.48" y="1629.50" font-size="25" font-weight="normal" text-anchor="middle" >2</text><text x="1719.64" y="1629.50" font-size="25" font-weight="normal" text-anchor="middle" >15</text><text x="1809.56" y="1629.50" font-size="25" font-weight="normal" text-anchor="middle" >0</text><text x="364.00" y="1658.60" font-size="25" font-weight="bold" text-anchor="start" >30b</text><text x="548.92" y="1658.60" font-size="25" font-weight="normal" text-anchor="middle" >12</text><text x="638.84" y="1658.60" font-size="25" font-weight="normal" text-anchor="middle" >0</text><text x="765.72" y="1658.60" font-size="25" font-weight="normal" text-anchor="middle" >21</text><text x="809.08" y="1658.60" font-size="25" font-weight="normal" text-anchor="middle" >20</text><text x="895.80" y="1658.60" font-size="25" font-weight="normal" text-anchor="middle" >16</text><text x="942.36" y="1658.60" font-size="25" font-weight="normal" text-anchor="middle" >5</text><text x="1029.08" y="1658.60" font-size="25" font-weight="normal" text-anchor="middle" >2</text><text x="1636.12" y="1658.60" font-size="25" font-weight="normal" text-anchor="middle" >3</text><text x="1722.84" y="1658.60" font-size="25" font-weight="normal" text-anchor="middle" >9</text><text x="1766.20" y="1658.60" font-size="25" font-weight="normal" text-anchor="middle" >0</text><text x="364.00" y="1687.70" font-size="25" font-weight="bold" text-anchor="start" >30</text><text x="638.84" y="1687.70" font-size="25" font-weight="normal" text-anchor="middle" >0</text><text x="765.72" y="1687.70" font-size="25" font-weight="normal" text-anchor="middle" >25</text><text x="809.08" y="1687.70" font-size="25" font-weight="normal" text-anchor="middle" >20</text><text x="895.80" y="1687.70" font-size="25" font-weight="normal" text-anchor="middle" >18</text><text x="942.36" y="1687.70" font-size="25" font-weight="normal" text-anchor="middle" >9</text><text x="1029.08" y="1687.70" font-size="25" font-weight="normal" text-anchor="middle" >0</text><text x="1245.88" y="1687.70" font-size="25" font-weight="normal" text-anchor="middle" >0</text><text x="1375.96" y="1687.70" font-size="25" font-weight="normal" text-anchor="middle" >0</text><text x="1636.12" y="1687.70" font-size="25" font-weight="normal" text-anchor="middle" >4</text><text x="1722.84" y="1687.70" font-size="25" font-weight="normal" text-anchor="middle" >1</text><text x="1809.56" y="1687.70" font-size="25" font-weight="normal" text-anchor="middle" >0</text><text x="364.00" y="1716.80" font-size="25" font-weight="bold" text-anchor="start" >30a</text><text x="725.56" y="1716.80" font-size="25" font-weight="normal" text-anchor="middle" >1</text><text x="768.92" y="1716.80" font-size="25" font-weight="normal" text-anchor="middle" >1</text><text x="809.08" y="1716.80" font-size="25" font-weight="normal" text-anchor="middle" >43</text><text x="895.80" y="1716.80" font-size="25" font-weight="normal" text-anchor="middle" >15</text><text x="942.36" y="1716.80" font-size="25" font-weight="normal" text-anchor="middle" >0</text><text x="1025.88" y="1716.80" font-size="25" font-weight="normal" text-anchor="middle" >18</text><text x="1375.96" y="1716.80" font-size="25" font-weight="normal" text-anchor="middle" >2</text><text x="1636.12" y="1716.80" font-size="25" font-weight="normal" text-anchor="middle" >8</text><text x="1722.84" y="1716.80" font-size="25" font-weight="normal" text-anchor="middle" >0</text><text x="1809.56" y="1716.80" font-size="25" font-weight="normal" text-anchor="middle" >0</text><text x="364.00" y="1745.90" font-size="25" font-weight="bold" text-anchor="start" >31</text><text x="508.76" y="1745.90" font-size="25" font-weight="normal" text-anchor="middle" >1</text><text x="638.84" y="1745.90" font-size="25" font-weight="normal" text-anchor="middle" >9</text><text x="722.36" y="1745.90" font-size="25" font-weight="normal" text-anchor="middle" >12</text><text x="768.92" y="1745.90" font-size="25" font-weight="normal" text-anchor="middle" >0</text><text x="812.28" y="1745.90" font-size="25" font-weight="normal" text-anchor="middle" >4</text><text x="942.36" y="1745.90" font-size="25" font-weight="normal" text-anchor="middle" >0</text><text x="1025.88" y="1745.90" font-size="25" font-weight="normal" text-anchor="middle" >20</text><text x="1636.12" y="1745.90" font-size="25" font-weight="normal" text-anchor="middle" >0</text><text x="1722.84" y="1745.90" font-size="25" font-weight="normal" text-anchor="middle" >8</text><text x="364.00" y="1775.00" font-size="25" font-weight="bold" text-anchor="start" >32</text><text x="508.76" y="1775.00" font-size="25" font-weight="normal" text-anchor="middle" >3</text><text x="722.36" y="1775.00" font-size="25" font-weight="normal" text-anchor="middle" >16</text><text x="768.92" y="1775.00" font-size="25" font-weight="normal" text-anchor="middle" >2</text><text x="809.08" y="1775.00" font-size="25" font-weight="normal" text-anchor="middle" >29</text><text x="895.80" y="1775.00" font-size="25" font-weight="normal" text-anchor="middle" >37</text><text x="1029.08" y="1775.00" font-size="25" font-weight="normal" text-anchor="middle" >9</text><text x="1636.12" y="1775.00" font-size="25" font-weight="normal" text-anchor="middle" >6</text><text x="1719.64" y="1775.00" font-size="25" font-weight="normal" text-anchor="middle" >13</text><text x="1809.56" y="1775.00" font-size="25" font-weight="normal" text-anchor="middle" >1</text><text x="364.00" y="1804.10" font-size="25" font-weight="bold" text-anchor="start" >33</text><text x="508.76" y="1804.10" font-size="25" font-weight="normal" text-anchor="middle" >2</text><text x="552.12" y="1804.10" font-size="25" font-weight="normal" text-anchor="middle" >1</text><text x="638.84" y="1804.10" font-size="25" font-weight="normal" text-anchor="middle" >7</text><text x="722.36" y="1804.10" font-size="25" font-weight="normal" text-anchor="middle" >21</text><text x="809.08" y="1804.10" font-size="25" font-weight="normal" text-anchor="middle" >25</text><text x="895.80" y="1804.10" font-size="25" font-weight="normal" text-anchor="middle" >12</text><text x="1025.88" y="1804.10" font-size="25" font-weight="normal" text-anchor="middle" >11</text><text x="1636.12" y="1804.10" font-size="25" font-weight="normal" text-anchor="middle" >9</text><text x="1679.48" y="1804.10" font-size="25" font-weight="normal" text-anchor="middle" >4</text><text x="1722.84" y="1804.10" font-size="25" font-weight="normal" text-anchor="middle" >1</text><text x="364.00" y="1833.20" font-size="25" font-weight="bold" text-anchor="start" >34</text><text x="638.84" y="1833.20" font-size="25" font-weight="normal" text-anchor="middle" >1</text><text x="809.08" y="1833.20" font-size="25" font-weight="normal" text-anchor="middle" >38</text><text x="899.00" y="1833.20" font-size="25" font-weight="normal" text-anchor="middle" >7</text><text x="1072.44" y="1833.20" font-size="25" font-weight="normal" text-anchor="middle" >1</text><text x="1419.32" y="1833.20" font-size="25" font-weight="normal" text-anchor="middle" >2</text><text x="1636.12" y="1833.20" font-size="25" font-weight="normal" text-anchor="middle" >5</text><text x="1676.28" y="1833.20" font-size="25" font-weight="normal" text-anchor="middle" >10</text><text x="364.00" y="1862.30" font-size="25" font-weight="bold" text-anchor="start" >34a</text><text x="465.40" y="1862.30" font-size="25" font-weight="normal" text-anchor="middle" >8</text><text x="508.76" y="1862.30" font-size="25" font-weight="normal" text-anchor="middle" >1</text><text x="638.84" y="1862.30" font-size="25" font-weight="normal" text-anchor="middle" >2</text><text x="722.36" y="1862.30" font-size="25" font-weight="normal" text-anchor="middle" >45</text><text x="809.08" y="1862.30" font-size="25" font-weight="normal" text-anchor="middle" >23</text><text x="899.00" y="1862.30" font-size="25" font-weight="normal" text-anchor="middle" >8</text><text x="1676.28" y="1862.30" font-size="25" font-weight="normal" text-anchor="middle" >14</text><text x="364.00" y="1891.40" font-size="25" font-weight="bold" text-anchor="start" >35</text><text x="465.40" y="1891.40" font-size="25" font-weight="normal" text-anchor="middle" >1</text><text x="508.76" y="1891.40" font-size="25" font-weight="normal" text-anchor="middle" >1</text><text x="552.12" y="1891.40" font-size="25" font-weight="normal" text-anchor="middle" >1</text><text x="722.36" y="1891.40" font-size="25" font-weight="normal" text-anchor="middle" >32</text><text x="809.08" y="1891.40" font-size="25" font-weight="normal" text-anchor="middle" >31</text><text x="892.60" y="1891.40" font-size="25" font-weight="normal" text-anchor="middle" >118</text><text x="1419.32" y="1891.40" font-size="25" font-weight="normal" text-anchor="middle" >9</text><text x="1636.12" y="1891.40" font-size="25" font-weight="normal" text-anchor="middle" >5</text><text x="1679.48" y="1891.40" font-size="25" font-weight="normal" text-anchor="middle" >6</text><text x="364.00" y="1920.50" font-size="25" font-weight="bold" text-anchor="start" >36</text><text x="548.92" y="1920.50" font-size="25" font-weight="normal" text-anchor="middle" >11</text><text x="638.84" y="1920.50" font-size="25" font-weight="normal" text-anchor="middle" >1</text><text x="809.08" y="1920.50" font-size="25" font-weight="normal" text-anchor="middle" >14</text><text x="895.80" y="1920.50" font-size="25" font-weight="normal" text-anchor="middle" >43</text><text x="1679.48" y="1920.50" font-size="25" font-weight="normal" text-anchor="middle" >5</text><text x="1722.84" y="1920.50" font-size="25" font-weight="normal" text-anchor="middle" >1</text><text x="364.00" y="1949.60" font-size="25" font-weight="bold" text-anchor="start" >37</text><text x="548.92" y="1949.60" font-size="25" font-weight="normal" text-anchor="middle" >19</text><text x="1679.48" y="1949.60" font-size="25" font-weight="normal" text-anchor="middle" >1</text><text x="364.00" y="1978.70" font-size="25" font-weight="bold" text-anchor="start" >38</text><text x="548.92" y="1978.70" font-size="25" font-weight="normal" text-anchor="middle" >52</text><text x="638.84" y="1978.70" font-size="25" font-weight="normal" text-anchor="middle" >3</text><text x="722.36" y="1978.70" font-size="25" font-weight="normal" text-anchor="middle" >24</text><text x="812.28" y="1978.70" font-size="25" font-weight="normal" text-anchor="middle" >7</text><text x="895.80" y="1978.70" font-size="25" font-weight="normal" text-anchor="middle" >47</text><text x="1419.32" y="1978.70" font-size="25" font-weight="normal" text-anchor="middle" >1</text><text x="1636.12" y="1978.70" font-size="25" font-weight="normal" text-anchor="middle" >2</text><text x="364.00" y="2007.80" font-size="25" font-weight="bold" text-anchor="start" >39</text><text x="548.92" y="2007.80" font-size="25" font-weight="normal" text-anchor="middle" >63</text><text x="638.84" y="2007.80" font-size="25" font-weight="normal" text-anchor="middle" >5</text><text x="809.08" y="2007.80" font-size="25" font-weight="normal" text-anchor="middle" >22</text><text x="899.00" y="2007.80" font-size="25" font-weight="normal" text-anchor="middle" >4</text><text x="1636.12" y="2007.80" font-size="25" font-weight="normal" text-anchor="middle" >6</text><text x="1679.48" y="2007.80" font-size="25" font-weight="normal" text-anchor="middle" >3</text><text x="364.00" y="2036.90" font-size="25" font-weight="bold" text-anchor="start" >40</text><text x="508.76" y="2036.90" font-size="25" font-weight="normal" text-anchor="middle" >0</text><text x="552.12" y="2036.90" font-size="25" font-weight="normal" text-anchor="middle" >4</text><text x="638.84" y="2036.90" font-size="25" font-weight="normal" text-anchor="middle" >9</text><text x="805.88" y="2036.90" font-size="25" font-weight="normal" text-anchor="middle" >106</text><text x="895.80" y="2036.90" font-size="25" font-weight="normal" text-anchor="middle" >39</text><text x="364.00" y="2066.00" font-size="25" font-weight="bold" text-anchor="start" >42</text><text x="805.88" y="2066.00" font-size="25" font-weight="normal" text-anchor="middle" >112</text><text x="899.00" y="2066.00" font-size="25" font-weight="normal" text-anchor="middle" >6</text><text x="364.00" y="2095.10" font-size="25" font-weight="bold" text-anchor="start" >43</text><text x="508.76" y="2095.10" font-size="25" font-weight="normal" text-anchor="middle" >1</text><text x="805.88" y="2095.10" font-size="25" font-weight="normal" text-anchor="middle" >114</text><text x="364.00" y="2124.20" font-size="25" font-weight="bold" text-anchor="start" >43a</text><text x="638.84" y="2124.20" font-size="25" font-weight="normal" text-anchor="middle" >0</text><text x="682.20" y="2124.20" font-size="25" font-weight="normal" text-anchor="middle" >2</text><text x="805.88" y="2124.20" font-size="25" font-weight="normal" text-anchor="middle" >141</text><text x="899.00" y="2124.20" font-size="25" font-weight="normal" text-anchor="middle" >8</text><text x="364.00" y="2153.30" font-size="25" font-weight="bold" text-anchor="start" >44</text><text x="809.08" y="2153.30" font-size="25" font-weight="normal" text-anchor="middle" >12</text><text x="364.00" y="2182.40" font-size="25" font-weight="bold" text-anchor="start" >44a</text><text x="725.56" y="2182.40" font-size="25" font-weight="normal" text-anchor="middle" >0</text><text x="805.88" y="2182.40" font-size="25" font-weight="normal" text-anchor="middle" >211</text><text x="899.00" y="2182.40" font-size="25" font-weight="normal" text-anchor="middle" >2</text><text x="364.00" y="2211.50" font-size="25" font-weight="bold" text-anchor="start" >45a</text><text x="725.56" y="2211.50" font-size="25" font-weight="normal" text-anchor="middle" >9</text><text x="812.28" y="2211.50" font-size="25" font-weight="normal" text-anchor="middle" >2</text><text x="899.00" y="2211.50" font-size="25" font-weight="normal" text-anchor="middle" >1</text><text x="364.00" y="2240.60" font-size="25" font-weight="bold" text-anchor="start" >46</text><text x="725.56" y="2240.60" font-size="25" font-weight="normal" text-anchor="middle" >1</text><text x="768.92" y="2240.60" font-size="25" font-weight="normal" text-anchor="middle" >1</text><text x="364.00" y="2269.70" font-size="25" font-weight="bold" text-anchor="start" >46a</text><text x="364.00" y="2298.80" font-size="25" font-weight="bold" text-anchor="start" >46d</text><text x="364.00" y="2327.90" font-size="25" font-weight="bold" text-anchor="start" >47a</text><text x="632.44" y="2327.90" font-size="25" font-weight="normal" text-anchor="middle" >137</text><text x="722.36" y="2327.90" font-size="25" font-weight="normal" text-anchor="middle" >18</text><text x="1636.12" y="2327.90" font-size="25" font-weight="normal" text-anchor="middle" >0</text><text x="364.00" y="2357.00" font-size="25" font-weight="bold" text-anchor="start" >47b</text><text x="552.12" y="2357.00" font-size="25" font-weight="normal" text-anchor="middle" >2</text><text x="812.28" y="2357.00" font-size="25" font-weight="normal" text-anchor="middle" >2</text><text x="1372.76" y="2357.00" font-size="25" font-weight="normal" text-anchor="middle" >83</text><text x="1679.48" y="2357.00" font-size="25" font-weight="normal" text-anchor="middle" >0</text><text x="364.00" y="2386.10" font-size="25" font-weight="bold" text-anchor="start" >47c</text><text x="635.64" y="2386.10" font-size="25" font-weight="normal" text-anchor="middle" >12</text><text x="679.00" y="2386.10" font-size="25" font-weight="normal" text-anchor="middle" >35</text><text x="725.56" y="2386.10" font-size="25" font-weight="normal" text-anchor="middle" >2</text><text x="812.28" y="2386.10" font-size="25" font-weight="normal" text-anchor="middle" >3</text><text x="895.80" y="2386.10" font-size="25" font-weight="normal" text-anchor="middle" >90</text><text x="1372.76" y="2386.10" font-size="25" font-weight="normal" text-anchor="middle" >81</text><text x="1549.40" y="2386.10" font-size="25" font-weight="normal" text-anchor="middle" >1</text><text x="1679.48" y="2386.10" font-size="25" font-weight="normal" text-anchor="middle" >0</text><text x="364.00" y="2415.20" font-size="25" font-weight="bold" text-anchor="start" >47d</text><text x="465.40" y="2415.20" font-size="25" font-weight="normal" text-anchor="middle" >0</text><text x="638.84" y="2415.20" font-size="25" font-weight="normal" text-anchor="middle" >2</text><text x="679.00" y="2415.20" font-size="25" font-weight="normal" text-anchor="middle" >39</text><text x="725.56" y="2415.20" font-size="25" font-weight="normal" text-anchor="middle" >3</text><text x="768.92" y="2415.20" font-size="25" font-weight="normal" text-anchor="middle" >2</text><text x="812.28" y="2415.20" font-size="25" font-weight="normal" text-anchor="middle" >3</text><text x="895.80" y="2415.20" font-size="25" font-weight="normal" text-anchor="middle" >65</text><text x="942.36" y="2415.20" font-size="25" font-weight="normal" text-anchor="middle" >6</text><text x="1372.76" y="2415.20" font-size="25" font-weight="normal" text-anchor="middle" >71</text><text x="1416.12" y="2415.20" font-size="25" font-weight="normal" text-anchor="middle" >12</text><text x="1722.84" y="2415.20" font-size="25" font-weight="normal" text-anchor="middle" >1</text><text x="1809.56" y="2415.20" font-size="25" font-weight="normal" text-anchor="middle" >0</text><text x="364.00" y="2444.30" font-size="25" font-weight="bold" text-anchor="start" >47e</text><text x="638.84" y="2444.30" font-size="25" font-weight="normal" text-anchor="middle" >4</text><text x="679.00" y="2444.30" font-size="25" font-weight="normal" text-anchor="middle" >52</text><text x="725.56" y="2444.30" font-size="25" font-weight="normal" text-anchor="middle" >1</text><text x="768.92" y="2444.30" font-size="25" font-weight="normal" text-anchor="middle" >0</text><text x="895.80" y="2444.30" font-size="25" font-weight="normal" text-anchor="middle" >58</text><text x="942.36" y="2444.30" font-size="25" font-weight="normal" text-anchor="middle" >0</text><text x="1372.76" y="2444.30" font-size="25" font-weight="normal" text-anchor="middle" >67</text><text x="1419.32" y="2444.30" font-size="25" font-weight="normal" text-anchor="middle" >0</text><text x="1636.12" y="2444.30" font-size="25" font-weight="normal" text-anchor="middle" >0</text><text x="1809.56" y="2444.30" font-size="25" font-weight="normal" text-anchor="middle" >0</text><text x="364.00" y="2473.40" font-size="25" font-weight="bold" text-anchor="start" >48</text><text x="635.64" y="2473.40" font-size="25" font-weight="normal" text-anchor="middle" >19</text><text x="725.56" y="2473.40" font-size="25" font-weight="normal" text-anchor="middle" >2</text><text x="939.16" y="2473.40" font-size="25" font-weight="normal" text-anchor="middle" >11</text><text x="1029.08" y="2473.40" font-size="25" font-weight="normal" text-anchor="middle" >1</text><text x="1245.88" y="2473.40" font-size="25" font-weight="normal" text-anchor="middle" >2</text><text x="1375.96" y="2473.40" font-size="25" font-weight="normal" text-anchor="middle" >1</text><text x="364.00" y="2502.50" font-size="25" font-weight="bold" text-anchor="start" >50</text><text x="638.84" y="2502.50" font-size="25" font-weight="normal" text-anchor="middle" >2</text><text x="725.56" y="2502.50" font-size="25" font-weight="normal" text-anchor="middle" >2</text><text x="768.92" y="2502.50" font-size="25" font-weight="normal" text-anchor="middle" >5</text><text x="855.64" y="2502.50" font-size="25" font-weight="normal" text-anchor="middle" >1</text><text x="899.00" y="2502.50" font-size="25" font-weight="normal" text-anchor="middle" >6</text><text x="1025.88" y="2502.50" font-size="25" font-weight="normal" text-anchor="middle" >13</text><text x="1375.96" y="2502.50" font-size="25" font-weight="normal" text-anchor="middle" >1</text><text x="1419.32" y="2502.50" font-size="25" font-weight="normal" text-anchor="middle" >3</text><text x="1636.12" y="2502.50" font-size="25" font-weight="normal" text-anchor="middle" >3</text><text x="1722.84" y="2502.50" font-size="25" font-weight="normal" text-anchor="middle" >6</text><text x="364.00" y="2531.60" font-size="25" font-weight="bold" text-anchor="start" >51</text><text x="899.00" y="2531.60" font-size="25" font-weight="normal" text-anchor="middle" >3</text><text x="364.00" y="2560.70" font-size="25" font-weight="bold" text-anchor="start" >52</text><text x="899.00" y="2560.70" font-size="25" font-weight="normal" text-anchor="middle" >6</text><text x="1419.32" y="2560.70" font-size="25" font-weight="normal" text-anchor="middle" >2</text><text x="1636.12" y="2560.70" font-size="25" font-weight="normal" text-anchor="middle" >3</text><text x="364.00" y="2589.80" font-size="25" font-weight="bold" text-anchor="start" >53</text><text x="508.76" y="2589.80" font-size="25" font-weight="normal" text-anchor="middle" >3</text><text x="638.84" y="2589.80" font-size="25" font-weight="normal" text-anchor="middle" >0</text><text x="679.00" y="2589.80" font-size="25" font-weight="normal" text-anchor="middle" >83</text><text x="722.36" y="2589.80" font-size="25" font-weight="normal" text-anchor="middle" >37</text><text x="812.28" y="2589.80" font-size="25" font-weight="normal" text-anchor="middle" >2</text><text x="895.80" y="2589.80" font-size="25" font-weight="normal" text-anchor="middle" >79</text><text x="1419.32" y="2589.80" font-size="25" font-weight="normal" text-anchor="middle" >4</text><text x="1722.84" y="2589.80" font-size="25" font-weight="normal" text-anchor="middle" >0</text><text x="1809.56" y="2589.80" font-size="25" font-weight="normal" text-anchor="middle" >1</text><text x="364.00" y="2618.90" font-size="25" font-weight="bold" text-anchor="start" >78</text><text x="508.76" y="2618.90" font-size="25" font-weight="normal" text-anchor="middle" >1</text><text x="638.84" y="2618.90" font-size="25" font-weight="normal" text-anchor="middle" >1</text><text x="682.20" y="2618.90" font-size="25" font-weight="normal" text-anchor="middle" >0</text><text x="722.36" y="2618.90" font-size="25" font-weight="normal" text-anchor="middle" >15</text><text x="768.92" y="2618.90" font-size="25" font-weight="normal" text-anchor="middle" >3</text><text x="812.28" y="2618.90" font-size="25" font-weight="normal" text-anchor="middle" >3</text><text x="855.64" y="2618.90" font-size="25" font-weight="normal" text-anchor="middle" >5</text><text x="895.80" y="2618.90" font-size="25" font-weight="normal" text-anchor="middle" >10</text><text x="942.36" y="2618.90" font-size="25" font-weight="normal" text-anchor="middle" >0</text><text x="985.72" y="2618.90" font-size="25" font-weight="normal" text-anchor="middle" >9</text><text x="1025.88" y="2618.90" font-size="25" font-weight="normal" text-anchor="middle" >73</text><text x="1072.44" y="2618.90" font-size="25" font-weight="normal" text-anchor="middle" >0</text><text x="1115.80" y="2618.90" font-size="25" font-weight="normal" text-anchor="middle" >2</text><text x="1159.16" y="2618.90" font-size="25" font-weight="normal" text-anchor="middle" >1</text><text x="1202.52" y="2618.90" font-size="25" font-weight="normal" text-anchor="middle" >5</text><text x="1245.88" y="2618.90" font-size="25" font-weight="normal" text-anchor="middle" >1</text><text x="1289.24" y="2618.90" font-size="25" font-weight="normal" text-anchor="middle" >1</text><text x="1332.60" y="2618.90" font-size="25" font-weight="normal" text-anchor="middle" >1</text><text x="1375.96" y="2618.90" font-size="25" font-weight="normal" text-anchor="middle" >1</text><text x="1419.32" y="2618.90" font-size="25" font-weight="normal" text-anchor="middle" >5</text><text x="1462.68" y="2618.90" font-size="25" font-weight="normal" text-anchor="middle" >1</text><text x="1506.04" y="2618.90" font-size="25" font-weight="normal" text-anchor="middle" >4</text><text x="1549.40" y="2618.90" font-size="25" font-weight="normal" text-anchor="middle" >0</text><text x="1592.76" y="2618.90" font-size="25" font-weight="normal" text-anchor="middle" >0</text><text x="1636.12" y="2618.90" font-size="25" font-weight="normal" text-anchor="middle" >6</text><text x="1679.48" y="2618.90" font-size="25" font-weight="normal" text-anchor="middle" >3</text><text x="1722.84" y="2618.90" font-size="25" font-weight="normal" text-anchor="middle" >5</text><text x="1763.00" y="2618.90" font-size="25" font-weight="normal" text-anchor="middle" >10</text><text x="1809.56" y="2618.90" font-size="25" font-weight="normal" text-anchor="middle" >4</text><text x="1852.92" y="2618.90" font-size="25" font-weight="normal" text-anchor="middle" >0</text><text x="1896.28" y="2618.90" font-size="25" font-weight="normal" text-anchor="middle" >3</text><text x="364.00" y="2648.00" font-size="25" font-weight="bold" text-anchor="start" >77</text><text x="462.20" y="2648.00" font-size="25" font-weight="normal" text-anchor="middle" >15</text><text x="508.76" y="2648.00" font-size="25" font-weight="normal" text-anchor="middle" >1</text><text x="548.92" y="2648.00" font-size="25" font-weight="normal" text-anchor="middle" >45</text><text x="595.48" y="2648.00" font-size="25" font-weight="normal" text-anchor="middle" >1</text><text x="638.84" y="2648.00" font-size="25" font-weight="normal" text-anchor="middle" >3</text><text x="682.20" y="2648.00" font-size="25" font-weight="normal" text-anchor="middle" >2</text><text x="722.36" y="2648.00" font-size="25" font-weight="normal" text-anchor="middle" >17</text></g>
</svg>
</body></html>
